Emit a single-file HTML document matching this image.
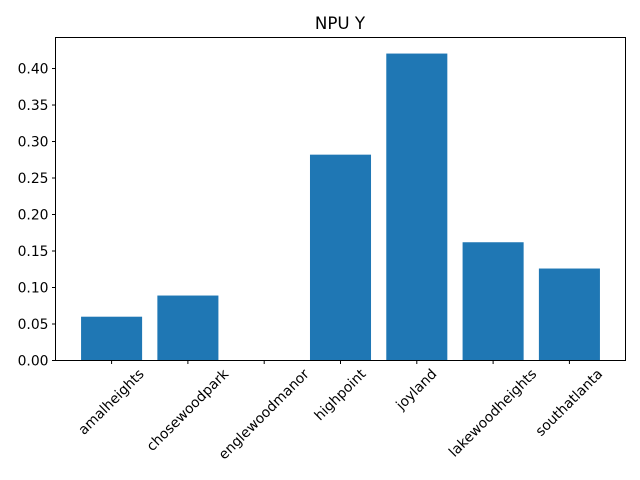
<!DOCTYPE html>
<html><head><meta charset="utf-8"><style>body{margin:0;background:#fff}svg{display:block;font-family:"DejaVu Sans","Liberation Sans",sans-serif}</style></head>
<body>
<svg id="c" width="640" height="480">
<rect width="640" height="480" fill="#fff"/>
<text x="340" y="29" font-size="16.7" text-anchor="middle">NPU Y</text>
<g id="bars"></g><g id="yticks"></g><g id="xticks"></g>
<rect x="55.5" y="37.5" width="570" height="323" fill="none" stroke="#000" stroke-width="1"/>
</svg>
<script>
const categories=["amalheights","chosewoodpark","englewoodmanor","highpoint","joyland","lakewoodheights","southatlanta"];
const values=[0.060,0.089,0,0.282,0.4205,0.162,0.126];
const yTicks=[0,0.05,0.10,0.15,0.20,0.25,0.30,0.35,0.40];
const yTickLabels=["0.00","0.05","0.10","0.15","0.20","0.25","0.30","0.35","0.40"];
const NS="http://www.w3.org/2000/svg";
const L=55.5,R=625.5,T=37.5,B=360.5,ymax=0.4425;
const xmin=-0.735,xmax=categories.length-1+0.735;
const x=i=>L+(i-xmin)/(xmax-xmin)*(R-L);
const y=v=>B-v/ymax*(B-T);
const bw=(R-L)/(xmax-xmin)*0.8;
function mk(t,a,p){const e=document.createElementNS(NS,t);for(const k in a)e.setAttribute(k,a[k]);p.appendChild(e);return e;}
const bars=document.getElementById('bars'),yt=document.getElementById('yticks'),xt=document.getElementById('xticks');
values.forEach((v,i)=>{const r=mk('rect',{x:x(i)-bw/2,y:y(v),width:bw,height:B-y(v),fill:'#1f77b4'},bars);

});
yTicks.forEach((v,i)=>{mk('line',{x1:L-3.5,x2:L,y1:y(v),y2:y(v),stroke:'#000'},yt);
const t=mk('text',{x:L-7,y:y(v)+4.8,'font-size':13.9,'text-anchor':'end'},yt);t.textContent=yTickLabels[i];

});
categories.forEach((c,i)=>{const cx=x(i);mk('line',{x1:cx,x2:cx,y1:B,y2:B+3.5,stroke:'#000'},xt);
const t=mk('text',{x:0,y:0,'font-size':13.9,'text-anchor':'middle','dominant-baseline':'central'},xt);t.textContent=c;


const len=t.getComputedTextLength(),h=14;const cy=367+(len+h)*0.7071/2;
t.setAttribute('transform','translate('+cx+','+cy+') rotate(-45)');});
</script>
</body></html>
